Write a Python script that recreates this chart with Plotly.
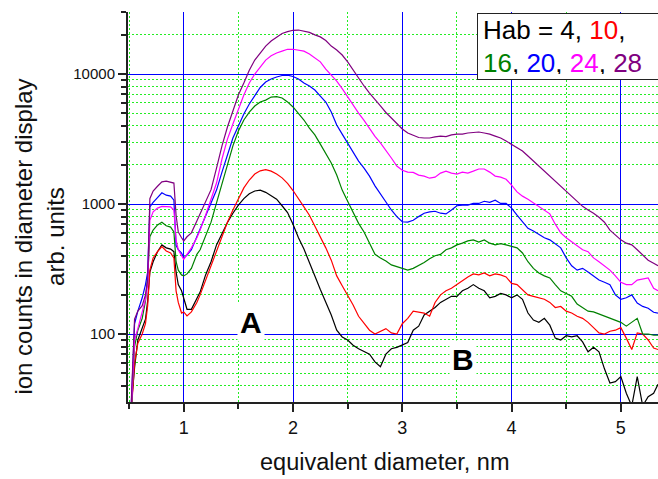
import math
import plotly.graph_objects as go

# equivalent diameter, nm
diameter_nm = [
    0.52, 0.55, 0.58, 0.62, 0.65, 0.67, 0.69, 0.72, 0.76, 0.80, 0.84, 0.88, 0.91, 0.93, 0.95, 0.98, 1.00, 1.03, 1.07, 1.12, 1.15,
    1.20, 1.25, 1.30, 1.35, 1.40, 1.45, 1.50, 1.55, 1.60, 1.65, 1.70, 1.75, 1.80, 1.85, 1.90, 1.95, 2.00, 2.05, 2.10,
    2.15, 2.20, 2.25, 2.30, 2.35, 2.40, 2.45, 2.50, 2.55, 2.60, 2.65, 2.70, 2.75, 2.80, 2.85, 2.90, 2.95, 3.00,
    3.05, 3.10, 3.15, 3.20, 3.25, 3.30, 3.35, 3.40, 3.45, 3.50, 3.55, 3.60, 3.65, 3.70, 3.75, 3.80, 3.85, 3.90, 3.95, 4.00,
    4.05, 4.10, 4.15, 4.20, 4.25, 4.30, 4.35, 4.40, 4.45, 4.50, 4.55, 4.60, 4.65, 4.70, 4.75, 4.80, 4.85, 4.90, 4.95, 5.00,
    5.05, 5.10, 5.15, 5.20, 5.25, 5.30, 5.34,
]

hab_4 = [
    28, 55, 90, 110, 130, 180, 300, 360, 430, 485, 460, 450, 430, 300, 240, 215, 190, 155, 155, 190, 210,
    285, 360, 485, 600, 720, 850, 980, 1100, 1200, 1260, 1280, 1230, 1150, 1090, 970, 860, 700, 550, 450,
    360, 280, 220, 175, 140, 107, 95, 90, 82, 77, 73, 70, 61, 56, 70, 77, 79, 82,
    86, 107, 115, 140, 150, 160, 175, 185, 195, 195, 215, 225, 240, 225, 215, 190, 195, 205, 200, 190,
    200, 185, 145, 128, 123, 132, 117, 93, 90, 97, 95, 97, 87, 73, 79, 73, 54, 42, 43, 47,
    35, 28, 47, 28, 33, 35, 41,
]

hab_10 = [
    25, 60, 85, 100, 120, 165, 310, 385, 430, 470, 435, 420, 385, 215, 175, 145, 148, 138, 148, 175, 200,
    260, 340, 445, 570, 725, 900, 1110, 1330, 1530, 1700, 1800, 1840, 1790, 1700, 1590, 1440, 1270, 1110, 950,
    820, 680, 560, 460, 370, 280, 235, 200, 167, 137, 120, 107, 100, 105, 110, 102, 100, 120,
    132, 150, 148, 145, 137, 175, 200, 215, 225, 240, 260, 275, 290, 285, 295, 280, 290, 285, 275, 245,
    240, 220, 200, 195, 190, 185, 175, 160, 163, 150, 145, 137, 132, 123, 112, 102, 100, 105, 107, 112,
    93, 76, 102, 100, 90, 78, 76,
]

hab_16 = [
    25, 80, 107, 132, 180, 280, 560, 630, 690, 725, 680, 665, 610, 360, 310, 285, 280, 290, 320, 410, 445,
    570, 725, 1020, 1450, 2030, 2800, 3650, 4430, 5100, 5670, 6100, 6300, 6650, 6700, 6540, 6100, 5580, 5000, 4430,
    3840, 3400, 2890, 2460, 2070, 1670, 1280, 1050, 850, 710, 610, 500, 410, 385, 365, 340, 330, 320,
    310, 320, 335, 355, 380, 400, 410, 445, 460, 485, 500, 520, 530, 510, 530, 500, 485, 495, 485, 475,
    460, 420, 360, 320, 295, 280, 270, 240, 215, 205, 195, 170, 160, 150, 148, 143, 137, 132, 128, 123,
    115, 123, 132, 100, 100, 98, 98,
]

hab_20 = [
    28, 120, 150, 190, 240, 300, 950, 1030, 1120, 1220, 1170, 1150, 1070, 480, 445, 420, 385, 405, 445, 560, 630,
    820, 1000, 1280, 1760, 2420, 3220, 3980, 4930, 5880, 6770, 7880, 8680, 9150, 9480, 9740, 9820, 9570, 9150, 8530,
    8090, 7530, 6770, 6090, 5100, 4050, 3450, 2950, 2550, 2140, 1890, 1640, 1380, 1190, 1040, 900, 800, 730,
    725, 750, 800, 850, 870, 880, 850, 840, 900, 970, 980, 980, 1010, 1010, 1050, 1030, 1070, 1010, 1010, 930,
    820, 725, 650, 620, 580, 550, 530, 490, 460, 385, 335, 310, 320, 300, 280, 260, 250, 240, 200, 185,
    190, 200, 173, 163, 158, 147, 145,
]

hab_24 = [
    26, 90, 110, 150, 185, 240, 750, 870, 930, 960, 950, 950, 900, 530, 445, 400, 375, 410, 460, 550, 630,
    820, 1070, 1450, 2220, 3160, 4130, 5380, 6900, 8530, 10000, 11300, 12800, 13800, 14500, 15000, 15500, 15500, 15300, 15000,
    14250, 13300, 12400, 10900, 9740, 8830, 7730, 6650, 5770, 5010, 4400, 3780, 3310, 2950, 2600, 2260, 1960, 1820,
    1760, 1750, 1670, 1640, 1580, 1610, 1730, 1790, 1730, 1700, 1760, 1730, 1790, 1860, 1860, 1760, 1640, 1610, 1550, 1400,
    1240, 1150, 1090, 1020, 960, 900, 840, 700, 600, 550, 510, 475, 445, 430, 385, 360, 335, 310, 280, 250,
    240, 240, 260, 265, 270, 225, 215,
]

hab_28 = [
    30, 130, 150, 165, 200, 260, 1100, 1260, 1370, 1480, 1500, 1480, 1450, 820, 610, 550, 520, 560, 600, 740, 840,
    1020, 1290, 1890, 2800, 3910, 5290, 6900, 8530, 10700, 12800, 14500, 16400, 17950, 19300, 20500, 21200, 21700, 21800, 21400,
    20900, 20000, 19300, 18100, 16400, 15300, 14000, 12400, 10700, 9320, 8090, 7140, 6420, 5680, 5060, 4590, 4130, 3780,
    3520, 3400, 3250, 3220, 3220, 3280, 3330, 3300, 3400, 3450, 3450, 3520, 3540, 3580, 3520, 3450, 3330, 3220, 3050, 2890,
    2740, 2560, 2340, 2140, 1960, 1790, 1640, 1500, 1370, 1240, 1130, 1040, 960, 900, 850, 790, 725, 630, 580, 530,
    500, 485, 445, 405, 370, 350, 335,
]

hab_labels = ["4", "10", "16", "20", "24", "28"]
hab_colors = ["#000000", "#ff0000", "#008000", "#0000ff", "#ff00ff", "#800080"]
hab_series = [hab_4, hab_10, hab_16, hab_20, hab_24, hab_28]

y_major = [100, 1000, 10000]
y_minor = [40, 50, 60, 70, 80, 90, 200, 300, 400, 500, 600, 700, 800, 900,
           2000, 3000, 4000, 5000, 6000, 7000, 8000, 9000, 20000, 30000]

for s in hab_series:
    assert len(s) == len(diameter_nm), len(s)

fig = go.Figure()
for lab, col, vals in zip(hab_labels, hab_colors, hab_series):
    fig.add_trace(go.Scatter(x=diameter_nm, y=vals, mode="lines",
                             line=dict(color=col, width=1.2), name="Hab = " + lab,
                             showlegend=False))

FONT = "Arial, 'Liberation Sans', sans-serif"
GREEN = "#22ee22"
fig.update_layout(
    width=658, height=479,
    margin=dict(l=128, r=0, t=12, b=77),
    paper_bgcolor="white", plot_bgcolor="white",
    font=dict(family=FONT, color="black"),
    showlegend=False,
)
fig.update_xaxes(
    range=[0.49, 5.34], tickmode="linear", tick0=0, dtick=1,
    ticks="outside", ticklen=8, tickwidth=2, tickcolor="#222",
    showline=True, linecolor="#222", linewidth=2,
    showgrid=True, gridcolor="#0000ff", gridwidth=1, zeroline=False,
    tickfont=dict(size=18, family=FONT, color="#111"),
    minor=dict(tick0=0, dtick=0.5, ticks="outside", ticklen=5, tickwidth=2, tickcolor="#222",
               showgrid=True, gridcolor=GREEN, griddash="2px,2px", gridwidth=1),
)
fig.update_yaxes(
    type="log", range=[math.log10(30), math.log10(30000)],
    tickmode="array", tickvals=y_major, ticktext=[str(v) for v in y_major],
    ticks="outside", ticklen=8, tickwidth=2, tickcolor="#222",
    showline=True, linecolor="#222", linewidth=2,
    showgrid=True, gridcolor="#0000ff", gridwidth=1, zeroline=False,
    tickfont=dict(size=15, family=FONT, color="#111"),
    minor=dict(tickmode="array", tickvals=y_minor, ticks="outside", ticklen=5, tickwidth=2,
               tickcolor="#222", showgrid=True, gridcolor=GREEN, griddash="2px,2px", gridwidth=1),
)

legend_text = ("Hab = 4, <span style='color:#ff0000'>10</span>,<br>"
               "<span style='color:#008000'>16</span>, <span style='color:#0000ff'>20</span>, "
               "<span style='color:#ff00ff'>24</span>, <span style='color:#800080'>28</span>")

fig.add_annotation(text="equivalent diameter, nm", xref="paper", yref="paper",
                   x=0.485, y=-0.154, xanchor="center", yanchor="middle",
                   showarrow=False, font=dict(size=23.5, family=FONT, color="#111"))
fig.add_annotation(text="ion counts in diameter display<br>arb. units", xref="paper", yref="paper",
                   x=-0.168, y=0.424, xanchor="center", yanchor="middle", textangle=-90,
                   showarrow=False, align="center", font=dict(size=24, family=FONT, color="#111"))
fig.add_annotation(text=legend_text, xref="paper", yref="paper",
                   x=0.6585, y=0.997, xanchor="left", yanchor="top", align="left",
                   width=170, height=55,
                   showarrow=False, bgcolor="white", bordercolor="#222", borderwidth=1, borderpad=5,
                   font=dict(size=26, family=FONT, color="black"))
fig.add_annotation(text="<b>A</b>", xref="paper", yref="paper", x=0.232, y=0.205,
                   xanchor="center", yanchor="middle", showarrow=False, bgcolor="white", borderpad=2,
                   font=dict(size=30, family=FONT, color="black"))
fig.add_annotation(text="<b>B</b>", xref="paper", yref="paper", x=0.632, y=0.108,
                   xanchor="center", yanchor="middle", showarrow=False, bgcolor="white", borderpad=2,
                   font=dict(size=30, family=FONT, color="black"))

fig.write_html("out.html")
